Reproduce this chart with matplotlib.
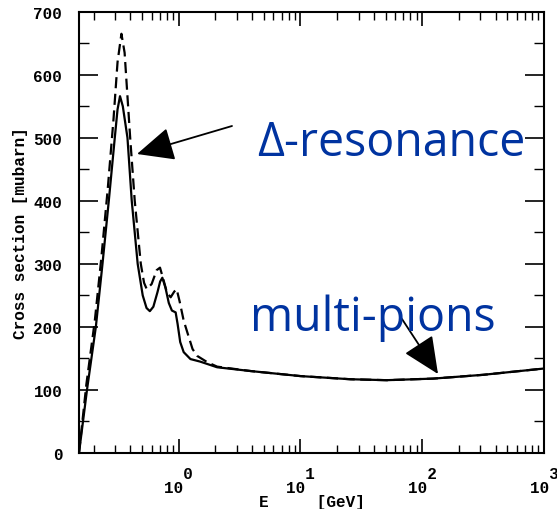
import matplotlib
matplotlib.use("Agg")
import matplotlib.pyplot as plt
from matplotlib.ticker import FixedLocator, LogLocator, NullFormatter, MultipleLocator

# ---- data ----
energy_solid = [0.152, 0.177, 0.209, 0.237, 0.267, 0.299, 0.315, 0.330, 0.348,
                0.380, 0.412, 0.461, 0.507, 0.545, 0.580, 0.620, 0.670, 0.705, 0.735,
                0.780, 0.830, 0.880, 0.945, 0.980, 1.03, 1.10, 1.25, 1.50, 2.07,
                3.9, 10.0, 25.7, 51.0, 123.0, 316.0, 1000.0]
sigma_solid = [0, 101, 200, 300, 400, 500, 545, 566, 550,
               500, 400, 300, 250, 230, 225, 232, 255, 272, 278,
               262, 238, 226, 223, 205, 176, 160, 149, 145, 136,
               130, 122, 117, 115.5, 118, 124, 134]

energy_dash = [0.152, 0.175, 0.205, 0.232, 0.262, 0.292, 0.315, 0.339, 0.360,
               0.400, 0.436, 0.489, 0.520, 0.547, 0.600, 0.660, 0.703, 0.750,
               0.800, 0.860, 0.920, 0.963, 1.02, 1.10, 1.18, 1.30, 1.42, 1.72,
               2.07, 3.9, 10.0, 25.7, 51.0, 123.0, 316.0, 1000.0]
sigma_dash = [0, 110, 210, 310, 420, 530, 620, 665, 635,
              500, 400, 300, 270, 260, 268, 290, 294, 275,
              255, 247, 256, 260, 240, 210, 191, 165, 154, 144,
              137, 130, 122, 117, 115.5, 118, 124, 134]

x_major = [1, 10, 100, 1000]
x_major_labels = ["  0\n10 ", "  1\n10 ", "  2\n10 ", "  3\n10 "]
y_major = [0, 100, 200, 300, 400, 500, 600, 700]

mono = "Liberation Mono"

fig = plt.figure(figsize=(5.57, 5.10), dpi=100)
ax = fig.add_axes([79 / 557, 56 / 510, (544 - 79) / 557, (454 - 12.7) / 510])

ax.plot(energy_solid, sigma_solid, color="black", lw=1.6, solid_joinstyle="round")
ax.plot(energy_dash, sigma_dash, color="black", lw=1.6, linestyle=(0, (5, 2.5)))

ax.set_xscale("log")
ax.set_xlim(0.152, 1000)
ax.set_ylim(0, 700)

ax.xaxis.set_major_locator(FixedLocator(x_major))
ax.set_xticklabels(x_major_labels, fontfamily=mono, fontweight="bold", fontsize=11.5,
                   linespacing=0.9)
ax.xaxis.set_minor_locator(LogLocator(base=10, subs=range(2, 10), numticks=20))
ax.xaxis.set_minor_formatter(NullFormatter())
ax.yaxis.set_major_locator(FixedLocator(y_major))
ax.yaxis.set_minor_locator(MultipleLocator(50))
for lab in ax.get_yticklabels():
    lab.set_fontfamily(mono)
    lab.set_fontweight("bold")
    lab.set_fontsize(11.5)

ax.tick_params(axis="y", which="major", direction="in", length=14, width=1.2,
               left=True, right=True, pad=12)
ax.tick_params(axis="y", which="minor", direction="in", length=7, width=1.0,
               left=True, right=True)
ax.tick_params(axis="x", which="major", direction="in", length=10, width=1.2,
               bottom=True, top=True, pad=9.5)
ax.tick_params(axis="x", which="minor", direction="in", length=5.5, width=1.0,
               bottom=True, top=True)
for s in ax.spines.values():
    s.set_linewidth(1.5)

ax.set_ylabel("Cross section [mubarn]", fontfamily=mono, fontweight="bold",
              fontsize=11.5, labelpad=4)
fig.text(311.5 / 557, (510 - 507) / 510, "E     [GeV]", fontfamily=mono,
         fontweight="bold", fontsize=11.5, ha="center", va="baseline")

blue = "#0033a0"
fig.text(257 / 557, (510 - 143) / 510, "Δ-resonance", color=blue, fontsize=33.5,
         fontfamily="Open Sans", fontweight="medium", ha="left", va="center")
fig.text(250 / 557, (510 - 318) / 510, "multi-pions", color=blue, fontsize=33.5,
         fontfamily="Open Sans", fontweight="medium", ha="left", va="center")

arrow_kw = dict(arrowstyle="-|>,head_length=1.1,head_width=0.5", color="black",
                lw=1.3, mutation_scale=21, shrinkA=0, shrinkB=0)
ax.annotate("", xy=(137, 510 - 155), xycoords="figure pixels",
            xytext=(232, 510 - 127), textcoords="figure pixels", arrowprops=arrow_kw)
ax.annotate("", xy=(438, 510 - 375), xycoords="figure pixels",
            xytext=(402, 510 - 320), textcoords="figure pixels", arrowprops=arrow_kw)

fig.savefig("out.png", dpi=100)
